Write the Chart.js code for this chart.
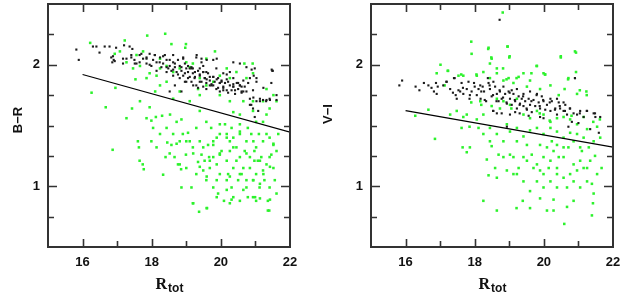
<!DOCTYPE html>
<html>
<head>
<meta charset="UTF-8">
<title>Colour-magnitude panels</title>
<script src="https://cdn.jsdelivr.net/npm/chart.js"></script>
<style>
  body { margin: 0; background: #fff; }
  #wrap { position: relative; width: 622px; height: 293px; }
  canvas { position: absolute; top: 0; }
</style>
</head>
<body>
<div id="wrap">
  <canvas id="brChart" width="300" height="293" style="left:0"></canvas>
  <canvas id="viChart" width="312" height="293" style="left:310px"></canvas>
</div>

<script>
// axis ranges and tick labels
const xRange = [15, 22];
const yRange = [0.5, 2.5];
const xTickLabels = [16, 18, 20, 22];
const yTickLabels = [1, 2];

// dividing lines [R, colour]
const brCut = [[16, 1.92], [22, 1.445]];
const viCut = [[16, 1.623], [22, 1.322]];

// B-R panel, red-sequence galaxies (black)
const brRed = [
  [15.82,2.125],[15.89,2.04],[16.4,2.15],[16.49,2.10],[16.64,2.15],[16.78,2.15],[16.97,2.14],[16.83,2.06],
  [16.86,2.02],[16.9,2.04],[17.2,2.16],[17.36,2.15],[17.44,2.13],[17.41,2.06],[17.5,2.04],[17.56,2.01],
  [17.65,2.08],[17.75,2.05],[17.85,2.06],[17.94,2.09],[18.04,2.04],[18.14,2.02],[18.24,2.06],[18.33,2.01],
  [18.38,2.08],[18.43,2.04],[18.52,1.99],[18.57,1.95],[18.62,2.02],[18.67,1.98],[18.72,1.94],[18.76,2.04],
  [18.81,1.99],[18.86,1.95],[18.91,1.91],[18.96,2.01],[19.0,1.97],[19.05,1.94],[19.1,1.90],[19.15,1.98],
  [19.19,1.93],[19.24,1.89],[19.29,2.06],[19.34,1.95],[19.39,1.91],[19.44,1.86],[19.49,1.94],[19.53,1.89],
  [19.58,1.85],[19.63,1.93],[19.68,1.87],[19.73,1.83],[19.78,1.90],[19.82,1.86],[19.87,1.80],[19.92,1.89],
  [19.97,1.85],[20.02,1.87],[20.07,1.82],[20.12,1.85],[20.17,1.79],[20.26,1.83],[20.36,1.82],[20.41,1.76],
  [20.46,1.85],[20.5,1.80],[20.55,1.83],[20.6,1.78],[20.55,2.01],[20.84,1.72],[20.88,1.67],[20.93,1.64],
  [20.98,1.97],[20.95,1.91],[21.03,1.70],[21.08,1.62],[21.22,1.71],[21.31,1.70],[21.46,1.85],[21.49,1.95],
  [21.61,1.71],[20.36,2.02],[19.78,2.04],[19.44,2.02],[18.48,1.97],[18.62,1.91],[18.81,1.89],[18.96,1.86],
  [19.05,1.99],[19.19,1.97],[19.39,1.97],[19.58,1.94],[19.78,1.83],[19.97,1.78],[20.21,1.86],[20.31,1.79],
  [20.69,1.82],[20.74,1.78],[20.79,1.85],[20.93,1.79],[19.29,1.83],[19.15,1.86],[18.43,1.94],[18.28,1.98],
  [18.14,1.95],[17.99,1.99],[17.85,2.01],[17.65,2.02],[17.27,2.05],[17.17,2.01],[18.09,2.08],[18.62,2.08],
  [18.91,2.06],[19.49,1.99],[19.87,1.97],[20.07,1.93],[20.26,1.94],[18.67,1.83],[18.52,1.78],[18.86,1.78],
  [19.58,1.80],[20.36,1.89],[20.65,1.87],[20.84,1.89],[21.03,1.86],[21.13,1.72],[20.84,1.67],[20.98,1.57],
  [21.41,1.72],[21.61,1.75],
  [19.30,2.08],[19.44,2.05],[19.59,2.04],[18.91,2.05],[19.1,1.97],[19.25,1.94],[19.39,1.92],[19.54,1.89],
  [19.68,1.90],[19.88,1.88],[20.02,1.86],[20.17,1.92],[20.36,1.84],[20.5,1.85],[20.6,1.82],[20.74,1.98],
  [20.89,1.96],[21.03,1.89],[21.23,1.81],[21.42,1.71],[21.5,1.95],[19.0,1.86],[19.2,1.83],[19.34,1.81],
  [19.49,1.82],[19.73,1.84],[19.92,1.81],[20.07,1.79],[20.21,1.77],[20.41,1.79],[20.6,1.77],
  [16.3,2.15],[16.88,2.07],[16.93,2.03],[17.17,2.05],[17.41,2.08],[17.51,2.01],[17.7,2.09],[17.85,2.05],
  [17.94,2.0],[18.09,2.08],[18.23,2.02],[18.33,2.07],[18.43,1.98],[18.52,2.04],[18.62,1.96],[18.67,2.01],
  [18.76,1.92],[18.86,1.98],[18.96,1.93],[19.05,1.89],[19.15,1.97],[19.25,1.90],[19.39,1.86],[19.49,1.94],
  [19.59,1.88],[19.68,1.83],[19.78,1.90],[19.88,2.05],[19.97,1.85],[20.07,1.81],[20.17,1.88],[20.36,1.82],
  [20.55,1.83],[20.65,1.78],[20.94,1.73],[21.13,1.70],[21.32,1.71],[21.47,1.96]
];

// B-R panel, other galaxies (green)
const brBlue = [
  [16.22,2.18],[17.22,2.20],[17.87,2.24],[18.39,2.255],[18.57,2.17],[18.99,2.17],[18.97,2.14],[19.83,2.11],
  [20.68,2.01],[20.92,2.01],[16.93,2.09],[17.53,1.88],[17.85,1.89],[16.26,1.77],[16.95,1.81],[16.67,1.65],
  [17.27,1.56],[17.43,1.64],[17.66,1.70],[17.94,1.65],[18.12,1.57],[18.3,1.58],[17.85,1.56],[17.99,1.54],
  [16.87,1.30],[17.6,1.37],[17.63,1.32],[17.74,1.18],[17.77,1.14],[18.33,1.095],[18.4,1.24],[18.45,1.36],
  [18.57,1.34],[18.66,1.24],[18.76,1.18],[18.85,1.14],[18.99,1.26],[19.15,0.99],[19.19,0.86],[19.37,0.79],
  [19.6,0.82],[18.86,1.55],[18.9,1.43],[19.05,1.44],[19.29,1.48],[19.39,1.37],[19.44,1.26],[19.49,1.13],
  [19.58,1.05],[19.66,1.24],[19.78,1.34],[19.88,1.18],[19.97,1.10],[19.92,0.94],[20.09,0.88],[20.21,1.10],
  [20.26,1.29],[20.36,1.40],[20.45,1.32],[20.55,1.24],[20.65,1.15],[20.74,1.05],[20.78,0.91],[20.93,0.91],
  [20.97,1.21],[21.02,1.32],[21.1,1.43],[21.17,1.24],[21.22,1.13],[21.26,1.05],[21.36,0.88],[21.41,0.99],
  [21.46,1.26],[21.52,1.34],[21.66,1.43],[21.36,0.80],[20.5,1.05],[20.31,0.99],[20.17,1.05],[19.63,1.34],
  [19.39,1.62],[19.58,1.53],[19.72,1.48],[19.97,1.51],[20.17,1.43],[20.36,1.61],[20.55,1.59],[20.65,1.70],
  [20.93,1.70],[21.22,1.70],[21.61,1.70],[21.32,1.59],[20.93,1.62],[20.88,1.43],[20.74,1.37],[20.55,1.43],
  [20.02,1.29],[19.78,1.24],[19.34,1.20],[19.19,1.32],[19.1,1.37],[18.81,1.37],[18.62,1.43],[18.24,1.43],
  [18.14,1.32],[17.99,1.37],[18.04,1.48],[18.43,1.48],[18.72,1.53],[18.53,1.59],[18.62,1.72],[18.81,1.78],
  [19.1,1.70],[19.39,1.75],[19.34,1.80],[19.58,1.83],[19.97,1.75],[20.26,1.70],[18.43,1.86],[18.24,1.83],
  [18.1,1.78],[18.14,1.91],[18.24,1.97],[18.43,1.99],[18.62,1.94],[18.81,1.97],[19.0,2.02],[19.1,1.98],
  [19.19,2.01],[19.39,1.89],[19.78,1.86],[19.97,1.91],[20.26,1.89],[20.74,1.89],[17.46,1.97],[17.66,1.99],
  [17.94,1.93],[17.27,2.02],[17.08,2.11],[17.75,2.11],[17.56,2.08],[18.24,2.05],[19.58,2.05],[20.17,1.97],
  [20.45,1.94],[20.93,1.93],[21.32,1.80],[21.52,1.75],[21.41,1.64],[21.22,1.53],[21.02,1.53],[20.78,1.48],
  [20.55,1.51],[20.31,1.48],[20.12,1.51],[19.97,1.43],[19.88,1.40],[20.26,1.37],[20.45,1.21],[20.6,1.10],
  [20.84,1.15],[21.02,1.10],[21.07,1.21],[21.32,1.18],[21.56,1.05],[21.61,1.29],[21.41,1.40],[21.22,1.37],
  [20.97,1.29],[20.84,1.24],[20.69,1.29],[20.36,1.15],[20.17,1.21],[19.97,1.26],[19.68,1.15],[19.53,1.21],
  [19.29,1.10],[19.0,1.15],[19.78,0.99],[20.36,0.91],[20.55,0.88],[20.26,0.86],[21.02,0.88],[21.12,0.99],
  [21.61,0.94],[21.52,1.15],[21.41,1.24],[20.93,1.05],[20.74,0.99],
  [17.65,1.21],[18.86,0.99],[19.2,0.86],[19.59,0.82],[19.88,0.91],[20.17,0.97],[20.31,0.89],[20.65,0.97],
  [20.99,0.91],[21.13,0.90],[21.42,0.89],[21.4,0.80],[19.39,1.16],[19.68,1.21],[19.97,1.27],[20.36,1.32],
  [20.74,1.27],[21.13,1.21],[21.42,1.16],[21.52,1.35],[21.32,1.43],[20.94,1.37],[20.55,1.45],[20.17,1.40],
  [19.78,1.37],[19.49,1.32],[19.2,1.27],[19.0,1.37],[18.72,1.35],[18.52,1.27],[18.81,1.18],[19.59,1.08],
  [19.88,1.05],[20.26,1.08],[20.55,1.10],[20.94,1.05],[21.23,1.10],[21.13,1.02]
];

// V-I panel, red-sequence galaxies (black)
const viRed = [
  [15.82,1.83],[15.9,1.87],[16.29,1.82],[16.4,1.79],[16.53,1.85],[16.66,1.83],[16.75,1.81],[16.82,1.78],
  [16.88,1.85],[16.93,1.82],[16.9,1.76],[17.09,1.83],[17.19,1.86],[17.29,1.80],[17.4,1.89],[17.45,1.75],
  [17.48,1.72],[17.53,1.79],[17.62,1.85],[17.67,1.76],[17.77,1.80],[17.85,1.72],[17.91,1.78],[17.98,1.85],
  [18.06,1.75],[18.11,1.80],[18.17,1.72],[18.23,1.82],[18.27,1.78],[18.33,1.70],[18.4,1.85],[18.44,1.80],
  [18.49,1.74],[18.54,1.62],[18.59,1.82],[18.64,1.76],[18.69,1.70],[18.72,2.37],[18.73,1.78],[18.78,1.72],
  [18.83,1.82],[18.88,1.76],[18.93,1.68],[18.98,1.78],[19.02,1.72],[19.07,1.67],[19.12,1.76],[19.17,1.70],
  [19.22,1.64],[19.27,1.74],[19.31,1.68],[19.36,1.72],[19.41,1.66],[19.46,1.70],[19.51,1.63],[19.56,1.72],
  [19.6,1.67],[19.65,1.61],[19.7,1.71],[19.75,1.66],[19.8,1.76],[19.85,1.69],[19.89,1.64],[19.99,1.70],
  [20.09,1.67],[20.19,1.62],[20.23,1.70],[20.33,1.64],[20.38,1.59],[20.43,1.69],[20.47,1.64],[20.57,1.62],
  [20.62,1.67],[20.67,1.59],[20.71,1.49],[20.76,1.64],[20.81,1.53],[20.9,1.89],[20.96,1.59],[21.0,1.52],
  [21.05,1.62],[21.25,1.62],[21.34,1.47],[21.44,1.60],[21.49,1.57],[21.59,1.44],[21.63,1.57],[18.64,1.60],
  [18.78,1.60],[18.93,1.49],[19.02,1.59],[19.89,1.57],[19.99,1.56],[20.19,1.72],[18.54,1.86],[18.16,1.83],
  [19.22,1.80],[19.41,1.76],[19.6,1.78],[19.94,1.74],[17.82,1.86],[17.58,1.78],[18.38,1.89],[19.07,1.79],
  [19.17,1.61],[19.56,1.58],[20.04,1.63],[20.38,1.72],[20.57,1.69],[20.86,1.60],[21.15,1.57],
  [17.18,1.86],[17.42,1.89],[17.37,1.77],[17.66,1.81],[17.86,1.75],[18.0,1.82],[18.19,1.78],[18.29,1.71],
  [18.43,1.83],[18.53,1.75],[18.63,1.70],[18.72,1.79],[18.82,1.73],[18.92,1.69],[19.01,1.77],[19.16,1.71],
  [19.3,1.67],[19.4,1.74],[19.5,1.64],[19.64,1.70],[19.79,1.75],[19.88,1.66],[19.98,1.71],[20.17,1.69],
  [20.32,1.63],[20.46,1.66],[20.61,1.62],[20.75,1.64],[20.9,1.89],[21.04,1.60],[21.24,1.62],[21.48,1.60],
  [18.53,1.62],[19.3,1.60]
];

// V-I panel, other galaxies (green)
const viBlue = [
  [18.81,2.43],[17.9,2.19],[17.91,2.09],[18.4,2.14],[18.95,2.15],[19.0,2.06],[18.49,2.05],[18.44,2.01],
  [20.49,2.06],[20.93,2.10],[17.01,2.0],[17.22,1.95],[16.9,1.93],[17.53,1.91],[17.67,1.91],[18.06,1.91],
  [18.25,1.94],[18.44,1.89],[18.64,1.93],[18.83,1.87],[18.98,1.89],[19.27,1.90],[19.41,1.93],[19.6,1.87],
  [19.8,1.99],[19.99,1.93],[20.04,1.92],[20.71,1.89],[20.93,1.94],[20.6,1.80],[20.96,1.76],[21.23,1.78],
  [16.66,1.63],[16.28,1.58],[16.85,1.39],[17.29,1.59],[17.62,1.48],[17.67,1.57],[17.85,1.49],[18.06,1.55],
  [18.25,1.59],[18.16,1.70],[18.49,1.66],[18.64,1.72],[18.73,1.64],[18.83,1.70],[19.02,1.67],[19.22,1.72],
  [19.41,1.59],[19.6,1.56],[19.8,1.62],[19.99,1.59],[20.19,1.53],[20.38,1.56],[20.57,1.57],[20.76,1.55],
  [20.96,1.51],[21.15,1.57],[21.25,1.47],[21.43,1.53],[21.54,1.49],[21.63,1.40],[21.44,1.37],[21.3,1.32],
  [21.48,1.25],[21.67,1.15],[21.54,1.10],[21.39,1.02],[21.44,0.94],[21.42,0.86],[21.39,0.76],[21.25,1.04],
  [21.15,1.15],[21.05,1.21],[20.96,1.13],[20.86,1.18],[20.76,1.10],[20.67,0.99],[20.57,1.07],[20.86,0.88],
  [20.67,0.83],[20.59,0.69],[20.38,0.99],[20.28,0.80],[20.09,0.80],[19.89,0.90],[19.6,0.96],[19.6,0.82],
  [19.21,0.82],[19.39,0.88],[20.28,0.89],[19.99,1.10],[20.19,1.21],[20.38,1.15],[20.57,1.24],[20.71,1.32],
  [20.86,1.37],[21.05,1.32],[21.15,1.40],[20.96,1.43],[20.76,1.44],[20.57,1.40],[20.38,1.34],[20.23,1.37],
  [20.09,1.32],[19.99,1.24],[19.8,1.18],[19.65,1.26],[19.51,1.34],[19.41,1.24],[19.27,1.15],[19.12,1.10],
  [19.02,1.26],[18.83,1.24],[18.69,1.26],[18.59,1.15],[18.4,1.09],[18.35,1.22],[18.64,1.07],[18.93,1.13],
  [19.12,1.24],[19.99,1.43],[19.8,1.48],[19.6,1.46],[19.41,1.41],[19.22,1.37],[19.02,1.45],[18.83,1.37],
  [18.64,1.43],[18.44,1.37],[18.25,1.43],[18.11,1.48],[18.44,1.48],[18.93,1.51],[19.22,1.48],[20.19,1.48],
  [20.38,1.45],[19.89,1.34],[19.51,1.21],[19.8,1.04],[19.99,0.99],[20.19,1.04],[20.38,1.10],[20.86,1.04],
  [21.05,0.99],[21.25,1.15],[21.34,1.21],[21.1,1.29],[20.57,1.32],[20.43,1.24],[20.28,1.29],[20.14,1.15],
  [19.89,1.13],[19.7,1.15],[19.41,1.04],[19.22,1.10],[18.49,1.33],[17.65,1.32],[17.77,1.28],[17.86,1.32],
  [18.25,0.88],[18.64,0.80],[17.77,1.59],[17.48,1.62],[18.64,1.97],[19.12,1.85],[19.51,1.82],[20.19,1.83],
  [20.43,1.75],[19.89,1.80],
  [18.39,2.13],[18.95,2.15],[18.48,2.06],[19.01,2.07],[18.82,1.97],[19.79,1.99],[20.49,2.07],[20.9,2.11],
  [17.23,1.95],[17.61,1.92],[18.05,1.92],[18.92,1.88],[19.21,1.89],[19.64,1.93],[20.03,1.92],[20.7,1.88],
  [17.13,1.83],[17.9,1.69],[18.19,1.67],[19.06,1.64],[19.88,1.60],[20.17,1.54],[20.8,1.58],[21.62,1.55],
  [21.24,1.75],[21.04,1.79]
];

const toXY = arr => arr.map(p => ({ x: p[0], y: p[1] }));

// box, inward ticks on all sides, tick labels and axis titles
const framePlugin = {
  id: 'frame',
  afterDraw(chart) {
    const ctx = chart.ctx;
    const a = chart.chartArea;
    const xs = chart.scales.x, ys = chart.scales.y;
    const opt = chart.options.plugins.frame;
    ctx.save();
    ctx.strokeStyle = '#333';
    ctx.lineWidth = 1.6;
    for (let v = xRange[0] + 1; v < xRange[1]; v++) {
      const px = Math.round(xs.getPixelForValue(v)) + 0.5;
      const len = xTickLabels.includes(v) ? 8 : 6;
      ctx.beginPath();
      ctx.moveTo(px, a.bottom); ctx.lineTo(px, a.bottom - len);
      ctx.moveTo(px, a.top); ctx.lineTo(px, a.top + len);
      ctx.stroke();
    }
    for (let v = yRange[0] + 0.25; v < yRange[1]; v += 0.25) {
      const py = Math.round(ys.getPixelForValue(v)) + 0.5;
      const len = yTickLabels.includes(v) ? 9 : 6;
      ctx.beginPath();
      ctx.moveTo(a.left, py); ctx.lineTo(a.left + len, py);
      ctx.moveTo(a.right, py); ctx.lineTo(a.right - len, py);
      ctx.stroke();
    }
    ctx.lineWidth = 2;
    ctx.strokeRect(a.left, a.top, a.right - a.left, a.bottom - a.top);

    ctx.fillStyle = '#111';
    ctx.font = 'bold 13px "Liberation Sans"';
    ctx.textAlign = 'center';
    ctx.textBaseline = 'middle';
    xTickLabels.forEach(v => ctx.fillText(String(v), xs.getPixelForValue(v), a.bottom + 15));
    ctx.textAlign = 'right';
    yTickLabels.forEach(v => ctx.fillText(String(v), a.left - 8, ys.getPixelForValue(v)));

    // y title
    ctx.save();
    ctx.translate(18, opt.yTitleAt);
    ctx.rotate(-Math.PI / 2);
    ctx.textAlign = 'center';
    ctx.font = 'bold 13px "Liberation Sans"';
    ctx.fillText(opt.yTitle, 0, 0);
    ctx.restore();

    // x title with subscript
    const cx = (a.left + a.right) / 2;
    ctx.textBaseline = 'alphabetic';
    ctx.textAlign = 'left';
    ctx.font = 'bold 16px "Liberation Serif"';
    const wR = ctx.measureText('R').width;
    ctx.font = 'bold 12px "Liberation Sans"';
    const wS = ctx.measureText('tot').width;
    const x0 = cx - (wR + wS) / 2;
    ctx.font = 'bold 16px "Liberation Serif"';
    ctx.fillText('R', x0, 289);
    ctx.font = 'bold 12px "Liberation Sans"';
    ctx.fillText('tot', x0 + wR + 1, 292);
    ctx.restore();
  }
};

function makePanel(id, yTitle, yTitleAt, red, blue, cut, padLeft, padRight) {
  return new Chart(document.getElementById(id), {
    type: 'scatter',
    data: {
      datasets: [
        {
          type: 'line',
          data: toXY(cut),
          borderColor: '#000',
          borderWidth: 1.2,
          pointRadius: 0,
          fill: false
        },
        {
          data: toXY(red),
          backgroundColor: '#1c1c1c',
          pointStyle: 'rect',
          pointRadius: 1.5,
          borderWidth: 0
        },
        {
          data: toXY(blue),
          backgroundColor: '#2cf22c',
          pointStyle: 'rect',
          pointRadius: 1.8,
          borderWidth: 0
        }
      ]
    },
    options: {
      responsive: false,
      animation: false,
      layout: { padding: { left: padLeft, right: padRight, top: 1, bottom: 46 } },
      scales: {
        x: { type: 'linear', min: xRange[0], max: xRange[1], display: false },
        y: { type: 'linear', min: yRange[0], max: yRange[1], display: false }
      },
      plugins: {
        legend: { display: false },
        tooltip: { enabled: false },
        frame: { yTitle: yTitle, yTitleAt: yTitleAt }
      }
    },
    plugins: [framePlugin]
  });
}

makePanel('brChart', 'B\u2212R', 120, brRed, brBlue, brCut, 48, 10);
makePanel('viChart', 'V\u2212I', 114, viRed, viBlue, viCut, 61, 9);
</script>
</body>
</html>
